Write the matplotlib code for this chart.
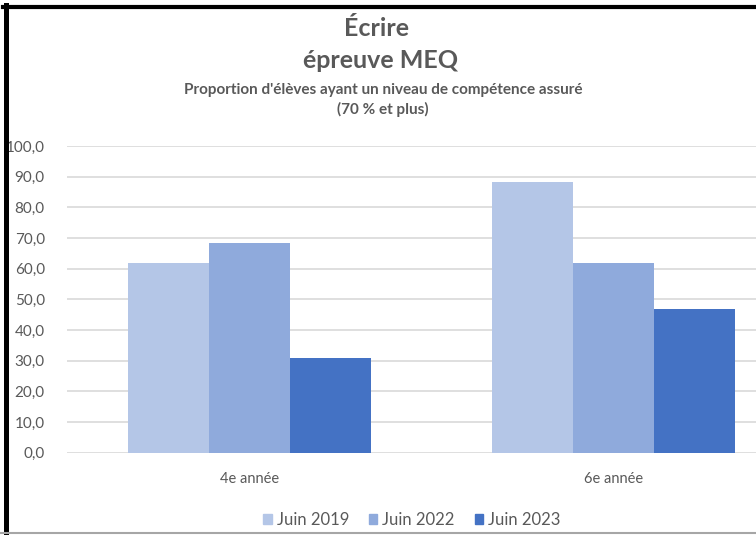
import matplotlib
matplotlib.use("Agg")
import matplotlib.pyplot as plt
from matplotlib.lines import Line2D
import numpy as np

plt.rcParams['font.family'] = ['Lato', 'DejaVu Sans']

categories = ["4e année", "6e année"]
series_names = ["Juin 2019", "Juin 2022", "Juin 2023"]
juin_2019 = [62.0, 88.2]
juin_2022 = [68.3, 62.0]
juin_2023 = [30.8, 46.9]
yticks = [0, 10, 20, 30, 40, 50, 60, 70, 80, 90, 100]
ytick_labels = ["0,0", "10,0", "20,0", "30,0", "40,0", "50,0", "60,0", "70,0", "80,0", "90,0", "100,0"]

colors = ["#B4C6E7", "#8FAADC", "#4472C4"]
txt = "#595959"

W, H = 756, 535
fig = plt.figure(figsize=(W / 100, H / 100), dpi=100)
fig.patch.set_facecolor("white")

ax = fig.add_axes([67 / W, 1 - 452.7 / H, (795.5 - 67) / W, (452.7 - 146) / H])
x = np.arange(len(categories))
bw = 0.2225
for i, (vals, name) in enumerate(zip([juin_2019, juin_2022, juin_2023], series_names)):
    ax.bar(x + (i - 1) * bw, vals, width=bw, color=colors[i], label=name, zorder=3)

ax.set_xlim(-0.5, 1.5)
ax.set_ylim(0, 100)
ax.set_yticks(yticks)
ax.set_yticklabels(ytick_labels)
ax.set_xticks(x)
ax.set_xticklabels(categories)
ax.grid(axis="y", color="#D9D9D9", linewidth=1.2, zorder=0)
for s in ax.spines.values():
    s.set_visible(False)
ax.tick_params(axis="y", length=0, labelsize=11, colors=txt, pad=16)
ax.tick_params(axis="x", length=0, labelsize=10.5, colors=txt, pad=14)

fig.text(376 / W, 1 - 28 / H, "Écrire", ha="center", va="center", fontsize=18, fontweight="bold", color=txt)
fig.text(381 / W, 1 - 61 / H, "épreuve MEQ", ha="center", va="center", fontsize=18, fontweight="bold", color=txt)
fig.text(383 / W, 1 - 90 / H, "Proportion d'élèves ayant un niveau de compétence assuré", ha="center", va="center", fontsize=11, fontweight="bold", color=txt)
fig.text(383 / W, 1 - 109 / H, "(70 % et plus)", ha="center", va="center", fontsize=11, fontweight="bold", color=txt)

handles = [plt.Rectangle((0, 0), 1, 1, color=c) for c in colors]
fig.legend(handles, series_names, loc="center", bbox_to_anchor=(412 / W, 1 - 520 / H), ncol=3, frameon=False,
           fontsize=12, labelcolor=txt, handlelength=0.5, handleheight=0.5, handletextpad=0.3, columnspacing=1.2)

# screenshot frame
fig.add_artist(Line2D([3 / W, 1], [1 - 7 / H, 1 - 7 / H], color="black", linewidth=3, transform=fig.transFigure))
fig.add_artist(Line2D([5.5 / W, 5.5 / W], [0, 1 - 5 / H], color="black", linewidth=3.6, transform=fig.transFigure))
fig.add_artist(Line2D([0, 1], [1 - 533 / H, 1 - 533 / H], color="#A6A6A6", linewidth=1.5, transform=fig.transFigure))

fig.savefig("out.png", dpi=100)
